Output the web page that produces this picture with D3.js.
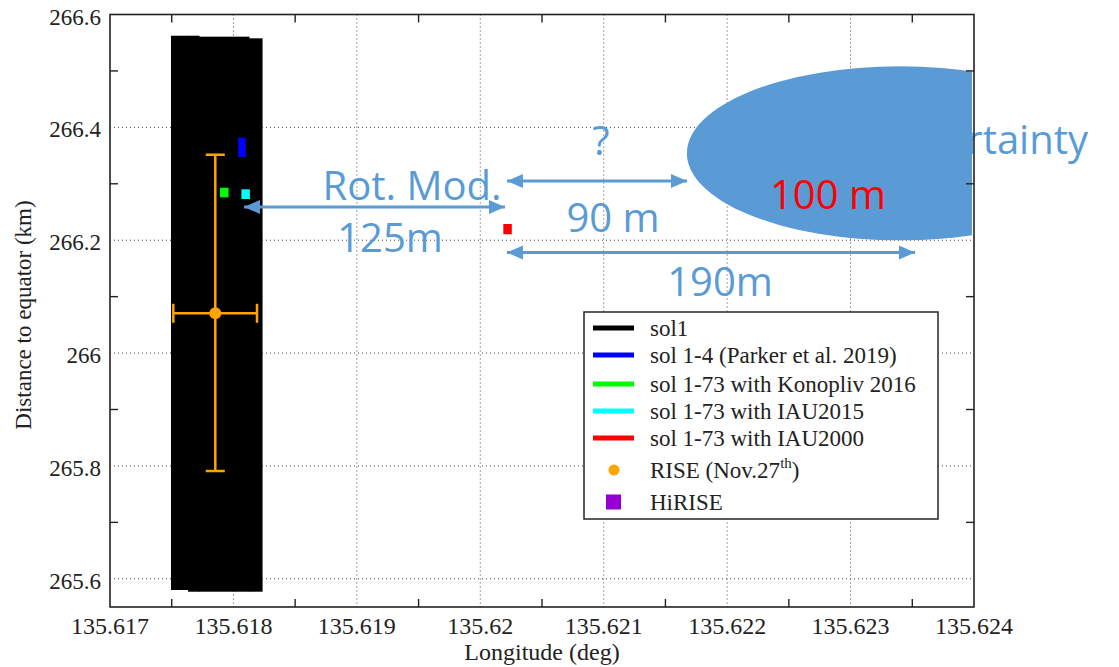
<!DOCTYPE html>
<html>
<head>
<meta charset="utf-8">
<script src="https://cdn.jsdelivr.net/npm/d3@7"></script>
<style>
  body { margin: 0; background: #fff; }
  .serif { font-family: "Liberation Serif", "DejaVu Serif", serif; fill: #222; }
  .note { font-family: "Open Sans", sans-serif; fill: #5b9bd5; }
</style>
</head>
<body>
<svg width="1119" height="667"></svg>
<script>
// axes
let xTicks = [135.617, 135.618, 135.619, 135.62, 135.621, 135.622, 135.623, 135.624];
let yTicks = [265.6, 265.8, 266, 266.2, 266.4, 266.6];

// sol1 block (pieces of the black band)
let sol1Lon0 = [135.617494, 135.617632, 135.617721, 135.618126];
let sol1Lon1 = [135.617632, 135.617721, 135.618126, 135.618232];
let sol1Top = [266.5624, 266.5624, 266.5607, 266.5578];
let sol1Bottom = [265.5801, 265.5771, 265.5771, 265.5771];

// other solutions: longitude and distance range
let solNames = ["sol 1-4", "Konopliv 2016", "IAU2015", "IAU2000"];
let solColors = ["#0000ff", "#00ff00", "#00ffff", "#ff0000"];
let solLon = [135.618069, 135.617926, 135.618099, 135.620221];
let solLow = [266.3475, 266.2760, 266.2730, 266.2105];
let solHigh = [266.3817, 266.2930, 266.2902, 266.2287];

// RISE estimate with error bars
let riseLon = 135.617853, riseKm = 266.0705;
let riseLon0 = 135.617513, riseLon1 = 135.618191;
let riseKm0 = 265.791, riseKm1 = 266.3515;

// uncertainty ellipse
let ellLon = 135.6234, ellKm = 266.354, ellRLon = 0.001726, ellRKm = 0.1542;

// arrows [lon0, lon1, km]
let arrows = [
  [135.618086, 135.620200, 266.2589],
  [135.620216, 135.621675, 266.3049],
  [135.620216, 135.623522, 266.1782]
];
// notes [text, lon, km, anchor]
let notes = [
  ["Rot. Mod.", 135.619447, 266.2713, "middle"],
  ["125m", 135.619269, 266.180, "middle"],
  ["?", 135.620978, 266.351, "middle"],
  ["90 m", 135.621075, 266.2137, "middle"],
  ["190m", 135.621942, 266.1011, "middle"]
];

let legendLabels = ["sol1", "sol 1-4 (Parker et al. 2019)", "sol 1-73 with Konopliv 2016",
  "sol 1-73 with IAU2015", "sol 1-73 with IAU2000", "RISE (Nov.27", "HiRISE"];
let legendColors = ["#000000", "#0000ff", "#00ff00", "#00ffff", "#ff0000", "#ffa500", "#9400d3"];

let svg = d3.select("svg");
let pL = 110, pR = 974, pT = 14.5, pB = 607;

let x = d3.scaleLinear().domain([135.617, 135.624]).range([pL, pR]);
let y = d3.scaleLinear().domain([265.55, 266.6]).range([pB, pT]);

// grid
let grid = svg.append("g").attr("stroke", "#444").attr("stroke-width", 1).attr("stroke-dasharray", "1,3");
grid.selectAll(".gx").data(xTicks.slice(1, -1)).enter().append("line")
  .attr("x1", d => x(d)).attr("x2", d => x(d)).attr("y1", pT).attr("y2", pB);
grid.selectAll(".gy").data(yTicks.slice(0, -1)).enter().append("line")
  .attr("y1", d => y(d)).attr("y2", d => y(d)).attr("x1", pL).attr("x2", pR);

// sol1 band
svg.append("g").selectAll("rect").data(sol1Lon0).enter().append("rect")
  .attr("x", (d, i) => x(d))
  .attr("width", (d, i) => x(sol1Lon1[i]) - x(d) + 0.5)
  .attr("y", (d, i) => y(sol1Top[i]))
  .attr("height", (d, i) => y(sol1Bottom[i]) - y(sol1Top[i]))
  .attr("fill", "#000");

// other solutions
svg.append("g").selectAll("line").data(solLon).enter().append("line")
  .attr("x1", d => x(d)).attr("x2", d => x(d))
  .attr("y1", (d, i) => y(solLow[i])).attr("y2", (d, i) => y(solHigh[i]))
  .attr("stroke", (d, i) => solColors[i])
  .attr("stroke-width", (d, i) => i == 0 ? 7.5 : 8.5);

// RISE with error bars
let rise = svg.append("g").attr("stroke", "#ffa500").attr("stroke-width", 2.5);
rise.append("line").attr("x1", x(riseLon)).attr("x2", x(riseLon)).attr("y1", y(riseKm0)).attr("y2", y(riseKm1));
rise.append("line").attr("x1", x(riseLon0)).attr("x2", x(riseLon1)).attr("y1", y(riseKm)).attr("y2", y(riseKm));
[riseKm0, riseKm1].forEach(k => rise.append("line")
  .attr("x1", x(riseLon) - 9.5).attr("x2", x(riseLon) + 9.5).attr("y1", y(k)).attr("y2", y(k)));
[riseLon0, riseLon1].forEach(l => rise.append("line")
  .attr("x1", x(l)).attr("x2", x(l)).attr("y1", y(riseKm) - 9.5).attr("y2", y(riseKm) + 9.5));
svg.append("circle").attr("cx", x(riseLon)).attr("cy", y(riseKm)).attr("r", 6).attr("fill", "#ffa500");

// text hidden behind the ellipse
svg.append("text").attr("class", "note").attr("font-size", 40)
  .attr("x", x(135.624924)).attr("y", y(266.3528)).attr("text-anchor", "end")
  .text("Uncertainty");

// ellipse, clipped at the plot edge
svg.append("clipPath").attr("id", "plotclip").append("rect")
  .attr("x", pL).attr("y", pT).attr("width", pR - pL - 2).attr("height", pB - pT);
svg.append("ellipse")
  .attr("clip-path", "url(#plotclip)")
  .attr("cx", x(ellLon)).attr("cy", y(ellKm))
  .attr("rx", x(ellLon + ellRLon) - x(ellLon)).attr("ry", y(ellKm) - y(ellKm + ellRKm))
  .attr("fill", "#5b9bd5");
svg.append("text").attr("font-family", "Open Sans, sans-serif").attr("font-size", 40).attr("fill", "#ff0000")
  .attr("x", x(135.622817)).attr("y", y(266.2553)).attr("text-anchor", "middle")
  .text("100 m");

// legend
let lg = svg.append("g");
lg.append("rect").attr("x", 584).attr("y", 312).attr("width", 354).attr("height", 207)
  .attr("fill", "#fff").attr("stroke", "#333").attr("stroke-width", 1.6);
let rowY = [328, 355, 384, 411, 438, 470, 502];
legendLabels.forEach((lab, i) => {
  if (i < 5) {
    lg.append("line").attr("x1", 593).attr("x2", 634).attr("y1", rowY[i]).attr("y2", rowY[i])
      .attr("stroke", legendColors[i]).attr("stroke-width", 5);
  } else if (i == 5) {
    lg.append("circle").attr("cx", 614).attr("cy", rowY[i]).attr("r", 5.5).attr("fill", legendColors[i]);
  } else {
    lg.append("rect").attr("x", 606).attr("y", rowY[i] - 7.5).attr("width", 15).attr("height", 15)
      .attr("fill", legendColors[i]);
  }
  let t = lg.append("text").attr("class", "serif").attr("font-size", 23)
    .attr("x", 650).attr("y", rowY[i] + 8).text(lab);
  if (i == 5) {
    t.append("tspan").attr("font-size", 15).attr("dy", -10).text("th");
    t.append("tspan").attr("dy", 10).text(")");
  }
});

// arrows
let defs = svg.append("defs");
defs.append("marker").attr("id", "head").attr("markerUnits", "userSpaceOnUse")
  .attr("markerWidth", 18).attr("markerHeight", 16).attr("viewBox", "0 -8 18 16")
  .attr("refX", 16).attr("refY", 0).attr("orient", "auto-start-reverse")
  .append("path").attr("d", "M0,-7L16,0L0,7Z").attr("fill", "#5b9bd5");
svg.append("g").selectAll("line").data(arrows).enter().append("line")
  .attr("x1", d => x(d[0])).attr("x2", d => x(d[1]))
  .attr("y1", d => y(d[2])).attr("y2", d => y(d[2]))
  .attr("stroke", "#5b9bd5").attr("stroke-width", 3)
  .attr("marker-start", "url(#head)").attr("marker-end", "url(#head)");
svg.append("g").selectAll("text").data(notes).enter().append("text")
  .attr("class", "note").attr("font-size", 40)
  .attr("x", d => x(d[1])).attr("y", d => y(d[2])).attr("text-anchor", d => d[3])
  .text(d => d[0]);

// frame and minor ticks
svg.append("rect").attr("x", pL).attr("y", pT).attr("width", pR - pL).attr("height", pB - pT)
  .attr("fill", "none").attr("stroke", "#222").attr("stroke-width", 1.6);
let xMinor = xTicks.slice(0, -1).map(d => d + 0.0005);
let yMinor = yTicks.slice(0, -1).map(d => d + 0.1);
let tk = svg.append("g").attr("stroke", "#222").attr("stroke-width", 1.4);
xMinor.forEach(d => {
  tk.append("line").attr("x1", x(d)).attr("x2", x(d)).attr("y1", pB).attr("y2", pB - 8);
  tk.append("line").attr("x1", x(d)).attr("x2", x(d)).attr("y1", pT).attr("y2", pT + 8);
});
yMinor.forEach(d => {
  tk.append("line").attr("y1", y(d)).attr("y2", y(d)).attr("x1", pL).attr("x2", pL + 8);
  tk.append("line").attr("y1", y(d)).attr("y2", y(d)).attr("x1", pR).attr("x2", pR - 8);
});

// tick labels
svg.append("g").selectAll("text").data(xTicks).enter().append("text")
  .attr("class", "serif").attr("font-size", 24).attr("text-anchor", "middle")
  .attr("x", d => x(d)).attr("y", 634).text(d => d3.format("")(d));
svg.append("g").selectAll("text").data(yTicks).enter().append("text")
  .attr("class", "serif").attr("font-size", 23).attr("text-anchor", "end")
  .attr("x", 101).attr("y", d => y(d) + 10).text(d => d3.format("")(d));

// axis titles
svg.append("text").attr("class", "serif").attr("font-size", 24).attr("text-anchor", "middle")
  .attr("x", 542).attr("y", 660).text("Longitude (deg)");
svg.append("text").attr("class", "serif").attr("font-size", 23).attr("text-anchor", "middle")
  .attr("transform", "translate(31,315) rotate(-90)").text("Distance to equator (km)");
</script>
</body>
</html>
